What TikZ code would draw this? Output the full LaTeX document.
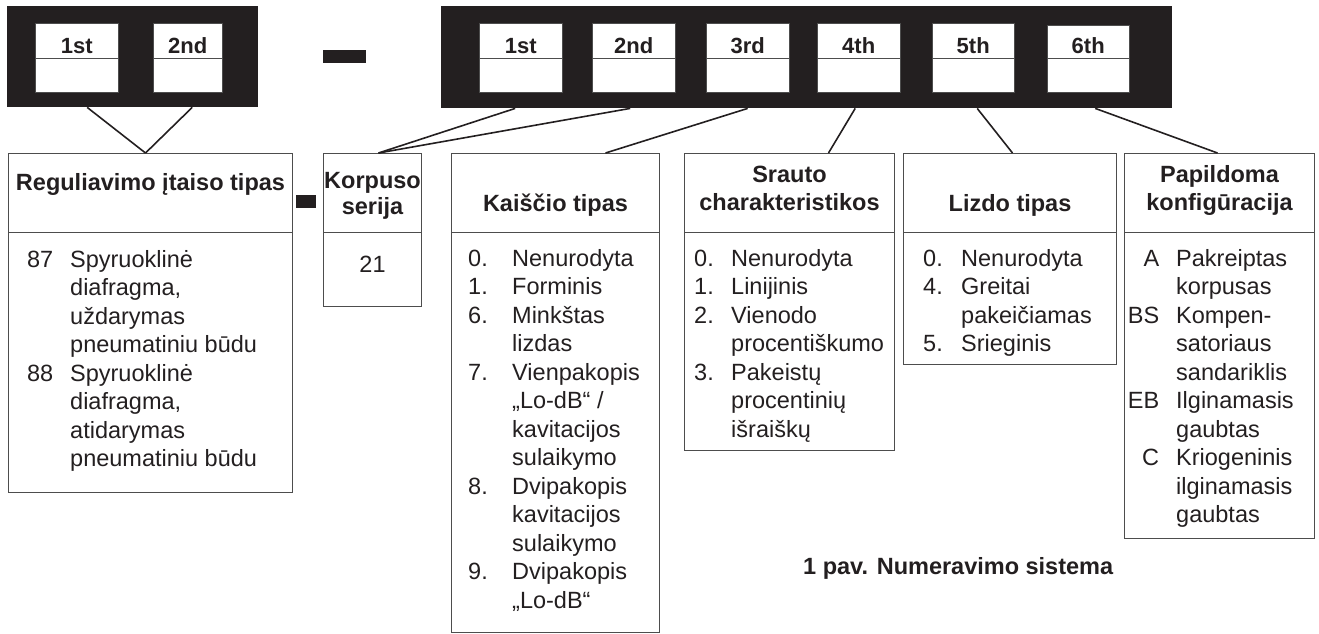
\documentclass[tikz,border=0pt]{standalone}
\usepackage{fontspec}
\setmainfont{Liberation Sans}
\usepackage{array}
\usepackage{tikz}
\usetikzlibrary{calc}
\definecolor{cInk}{HTML}{231F20}
\definecolor{cEdge}{HTML}{4D4D4D}
\newcommand{\bodyfont}{\fontsize{23.5}{28.5}\selectfont}

\begin{document}
\begin{tikzpicture}[x=1pt,y=-1pt,
  font=\bodyfont, text=cInk,
  bar/.style={fill=cInk,inner sep=0,anchor=north west},
  cell/.style={draw=cEdge,fill=white,inner sep=0,minimum width=83,minimum height=69,anchor=north west},
  tag/.style={font=\fontsize{22}{26}\selectfont\bfseries,anchor=base,inner sep=0},
  box/.style={draw=cEdge,line width=1pt,inner sep=0,anchor=north west},
  head/.style={font=\fontsize{23.5}{28}\selectfont\bfseries,align=center,anchor=base,inner sep=0},
  lst/.style={anchor=base west,inner sep=0},
  ln/.style={line width=1.6pt,draw=cInk}
]
\useasboundingbox (0,0) rectangle (1319,633);
% code bars
\node[bar,minimum width=251,minimum height=101] (lbar) at (7,6) {};
\node[bar,minimum width=731,minimum height=102] (rbar) at (441,6) {};
\fill[cInk] (323,50) rectangle (366,63);
% code cells
\node[cell] (a1) at (35,23) {};
\node[cell,minimum width=69] (a2) at (153,23) {};
\node[cell] (b1) at (479,23) {};
\node[cell] (b2) at (592,23) {};
\node[cell] (b3) at (706,23) {};
\node[cell] (b4) at (817,23) {};
\node[cell,minimum width=82] (b5) at (932,23) {};
\node[cell,minimum width=82,minimum height=67] (b6) at (1047,25) {};
\foreach \c in {a1,a2,b1,b2,b3,b4,b5,b6}
  \draw[cEdge] (\c.west |- 0,58) -- (\c.east |- 0,58);
\node[tag] (a1t) at (a1.north |- 0,53) {1st};
\node[tag] (a2t) at (a2.north |- 0,53) {2nd};
\node[tag] (b1t) at (b1.north |- 0,53) {1st};
\node[tag] (b2t) at (b2.north |- 0,53) {2nd};
\node[tag] (b3t) at (b3.north |- 0,53) {3rd};
\node[tag] (b4t) at (b4.north |- 0,53) {4th};
\node[tag] (b5t) at (b5.north |- 0,53) {5th};
\node[tag] (b6t) at (b6.north |- 0,53) {6th};
% description boxes
\node[box,minimum width=284,minimum height=339] (reg) at (8,153) {};
\node[box,minimum width=98,minimum height=153] (korp) at (323,153) {};
\node[box,minimum width=208,minimum height=479] (kais) at (451,153) {};
\node[box,minimum width=210,minimum height=297] (srau) at (684,153) {};
\node[box,minimum width=213,minimum height=211] (lizd) at (903,153) {};
\node[box,minimum width=190,minimum height=385] (papi) at (1124,153) {};
\foreach \b in {reg,korp,kais,srau,lizd,papi}
  \draw[cEdge,line width=1pt] (\b.west |- 0,232) -- (\b.east |- 0,232);
\fill[cInk] (296,195) rectangle (316,208);
% headings (base = last line)
\node[head] (regh) at (reg.north |- 0,190) {Reguliavimo įtaiso tipas};
\node[head,font=\fontsize{23.5}{26}\selectfont\bfseries] (korph) at (korp.north |- 0,214) {Korpuso\\serija};
\node[head] (kaish) at (kais.north |- 0,211) {Kaiščio tipas};
\node[head] (srauh) at (srau.north |- 0,210) {Srauto\\charakteristikos};
\node[head] (lizdh) at (lizd.north |- 0,211) {Lizdo tipas};
\node[head] (papih) at (papi.north |- 0,210) {Papildoma\\konfigūracija};
% lists
\node[lst] (regl) at (8,267) {\begin{tabular}[t]{@{}>{\raggedleft\arraybackslash}p{45pt}@{\hspace{17pt}}l@{}}
87 & Spyruoklinė\\
   & diafragma,\\
   & uždarymas\\
   & pneumatiniu būdu\\
88 & Spyruoklinė\\
   & diafragma,\\
   & atidarymas\\
   & pneumatiniu būdu
\end{tabular}};
\node[anchor=base,inner sep=0] (korpl) at (korp.north |- 0,272) {21};
\node[lst] (kaisl) at (468,266) {\begin{tabular}[t]{@{}p{44pt}@{}l@{}}
0. & Nenurodyta\\
1. & Forminis\\
6. & Minkštas\\
   & lizdas\\
7. & Vienpakopis\\
   & „Lo-dB“ /\\
   & kavitacijos\\
   & sulaikymo\\
8. & Dvipakopis\\
   & kavitacijos\\
   & sulaikymo\\
9. & Dvipakopis\\
   & „Lo-dB“
\end{tabular}};
\node[lst] (saul) at (694,266) {\begin{tabular}[t]{@{}p{37pt}@{}l@{}}
0. & Nenurodyta\\
1. & Linijinis\\
2. & Vienodo\\
   & procentiškumo\\
3. & Pakeistų\\
   & procentinių\\
   & išraiškų
\end{tabular}};
\node[lst] (lizdl) at (923,266) {\begin{tabular}[t]{@{}p{38pt}@{}l@{}}
0. & Nenurodyta\\
4. & Greitai\\
   & pakeičiamas\\
5. & Srieginis
\end{tabular}};
\node[lst] (papil) at (1124,266) {\begin{tabular}[t]{@{}>{\raggedleft\arraybackslash}p{35pt}@{\hspace{17pt}}l@{}}
A  & Pakreiptas\\
   & korpusas\\
BS & Kompen-\\
   & satoriaus\\
   & sandariklis\\
EB & Ilginamasis\\
   & gaubtas\\
C  & Kriogeninis\\
   & ilginamasis\\
   & gaubtas
\end{tabular}};
% caption
\node[font=\fontsize{23.5}{28}\selectfont\bfseries,anchor=base west,inner sep=0] (cap) at (803,574) {1 pav. Numeravimo sistema};
% connectors
\draw[ln] ($(a1.south |- lbar.south)+(10.5,0)$) -- ($(reg.north)+(-5,0)$);
\draw[ln] ($(a2.south |- lbar.south)+(4.5,0)$) -- ($(reg.north)+(-5,0)$);
\draw[ln] ($(b1.south |- rbar.south)+(-5.5,0)$) -- ($(korp.north)+(6,0)$);
\draw[ln] ($(b2.south |- rbar.south)+(-3.5,0)$) -- ($(korp.north)+(6,0)$);
\draw[ln] (b3.south |- rbar.south) -- ($(kais.north)+(50,0)$);
\draw[ln] ($(b4.south |- rbar.south)+(-3.5,0)$) -- ($(srau.north)+(39,0)$);
\draw[ln] ($(b5.south |- rbar.south)+(4,0)$) -- ($(lizd.north)+(2.5,0)$);
\draw[ln] ($(b6.south |- rbar.south)+(7,0)$) -- ($(papi.north)+(-2,0)$);
\end{tikzpicture}
\end{document}
